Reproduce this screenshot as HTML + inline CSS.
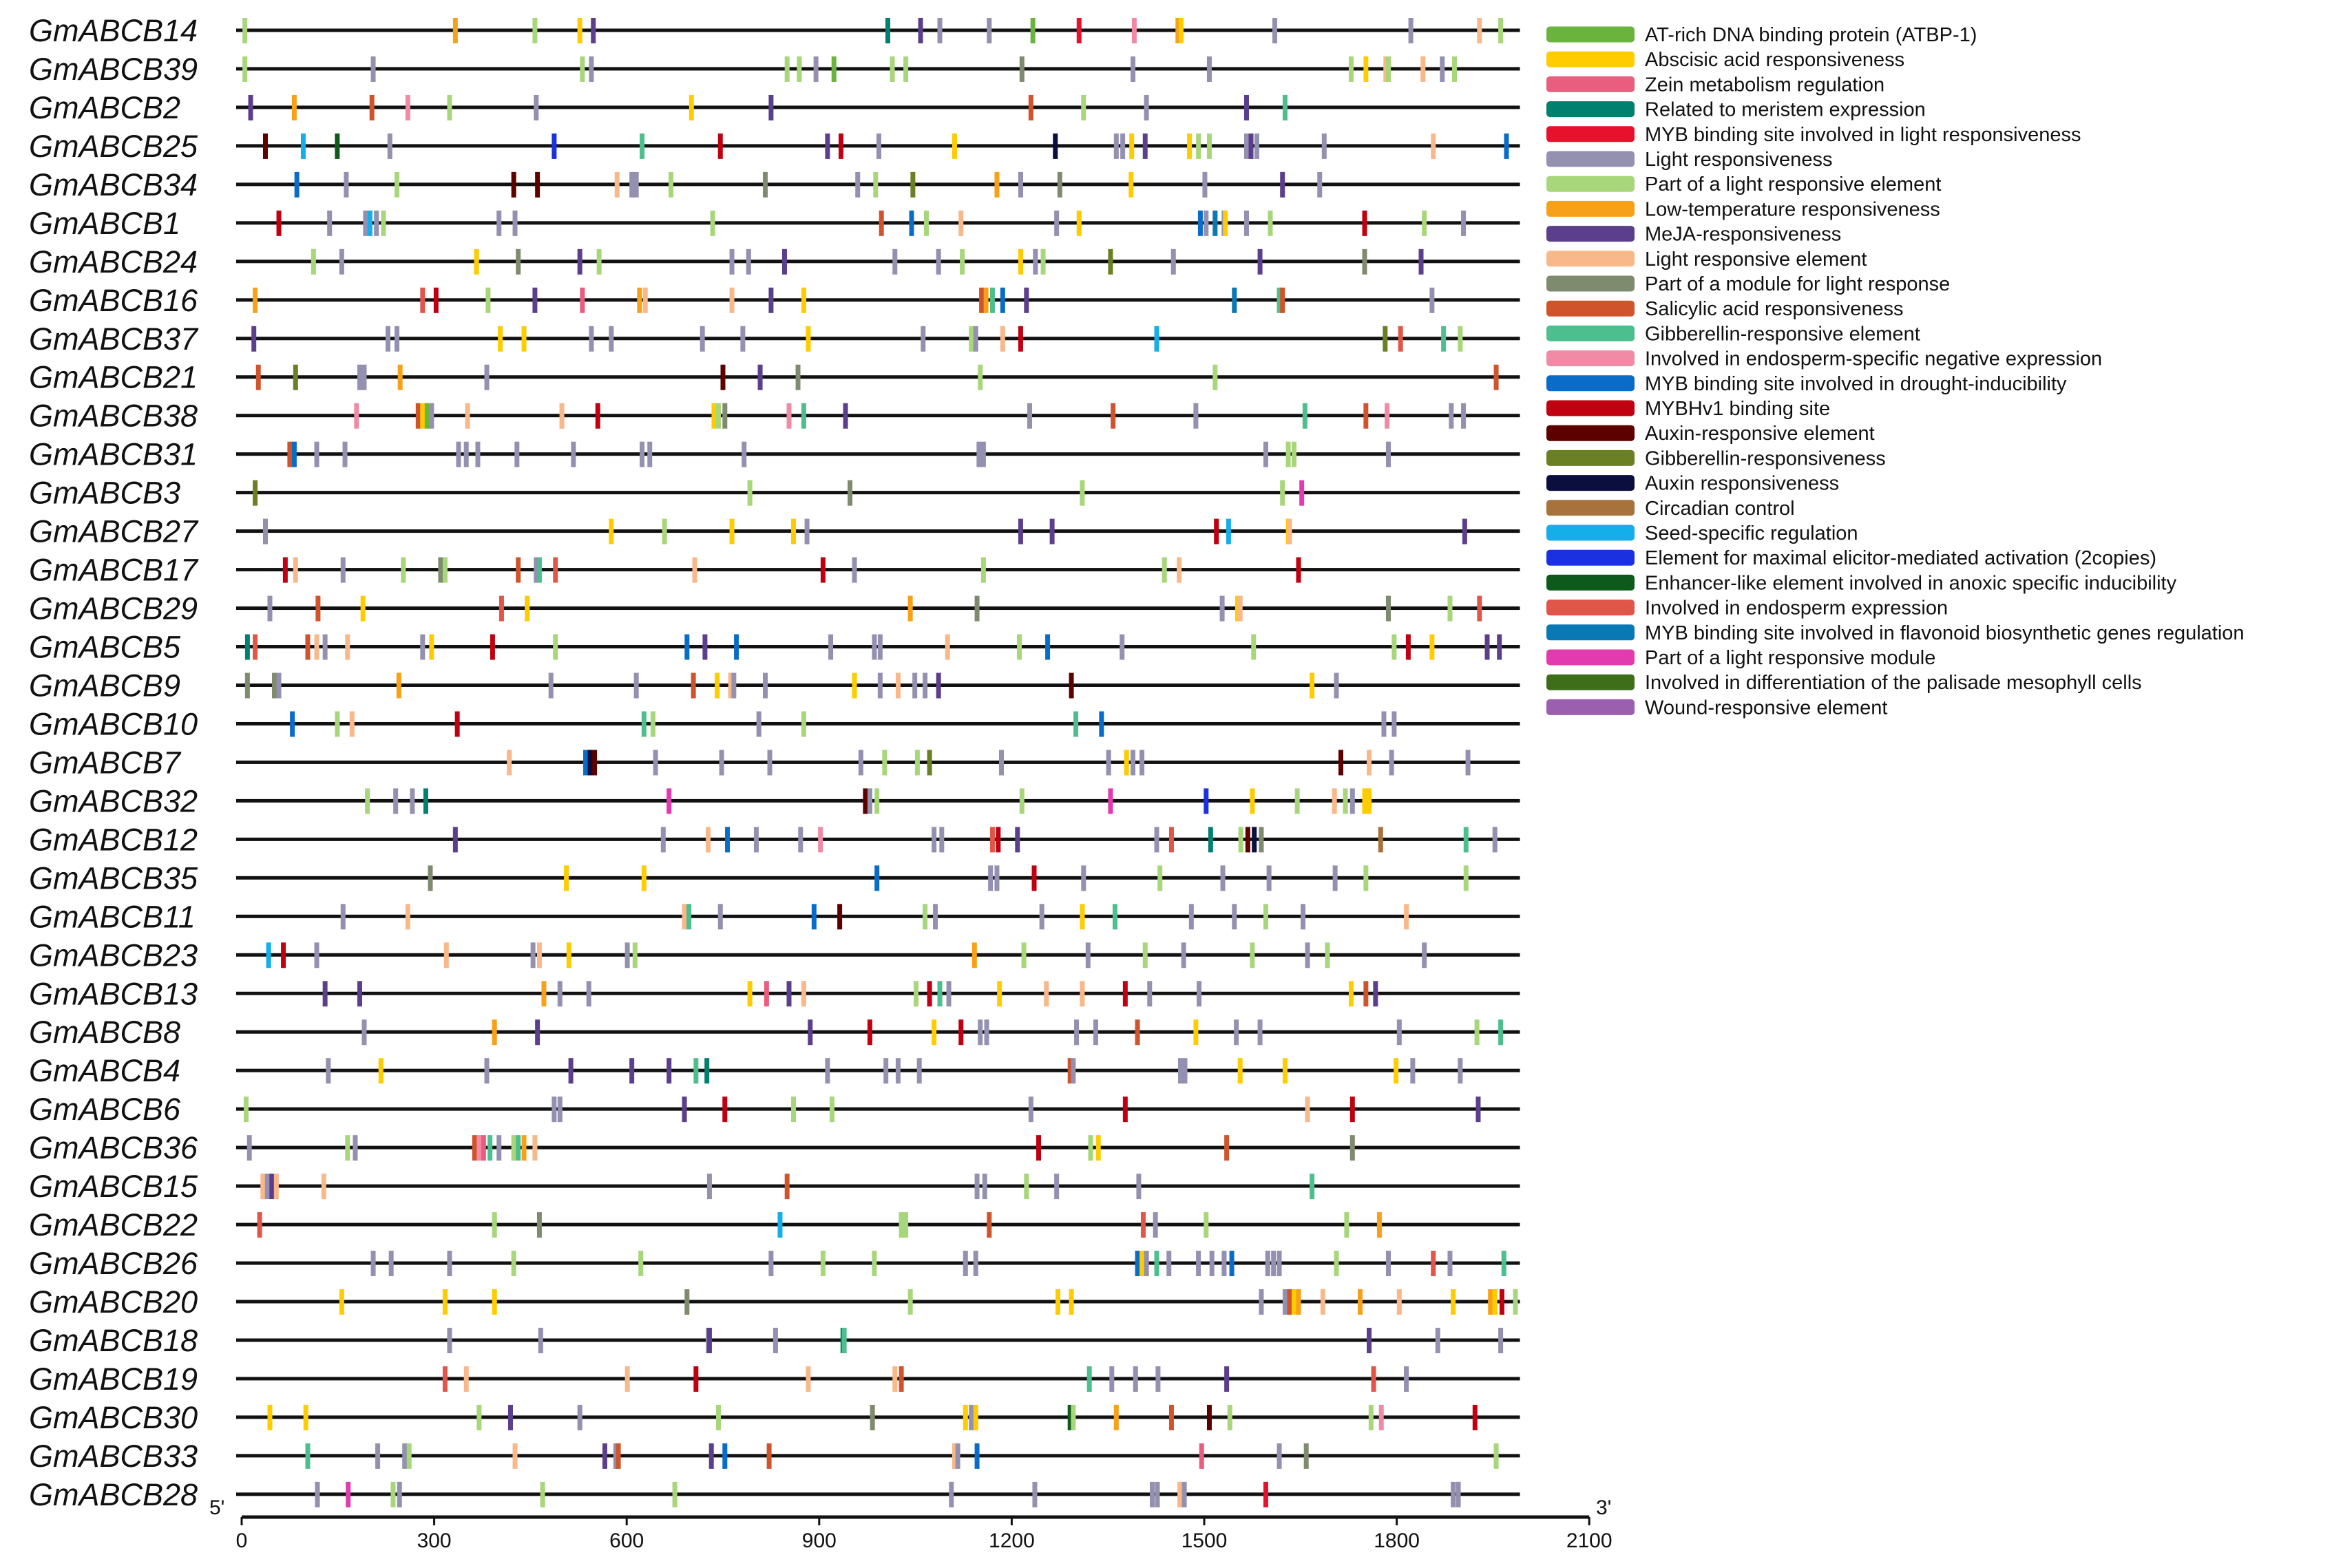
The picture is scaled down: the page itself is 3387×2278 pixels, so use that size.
<!DOCTYPE html>
<html><head><meta charset="utf-8"><style>
html,body{margin:0;padding:0;background:#fff;}
svg{display:block;font-family:"Liberation Sans",Arial,sans-serif;}
</style></head><body>
<svg id="chart" width="3387" height="2278" viewBox="0 0 3387 2278" xmlns="http://www.w3.org/2000/svg"></svg>
<script>
const genes = ["GmABCB14","GmABCB39","GmABCB2","GmABCB25","GmABCB34","GmABCB1","GmABCB24","GmABCB16","GmABCB37","GmABCB21","GmABCB38","GmABCB31","GmABCB3","GmABCB27","GmABCB17","GmABCB29","GmABCB5","GmABCB9","GmABCB10","GmABCB7","GmABCB32","GmABCB12","GmABCB35","GmABCB11","GmABCB23","GmABCB13","GmABCB8","GmABCB4","GmABCB6","GmABCB36","GmABCB15","GmABCB22","GmABCB26","GmABCB20","GmABCB18","GmABCB19","GmABCB30","GmABCB33","GmABCB28"];
const elementNames = ["AT-rich DNA binding protein (ATBP-1)","Abscisic acid responsiveness","Zein metabolism regulation","Related to meristem expression","MYB binding site involved in light responsiveness","Light responsiveness","Part of a light responsive element","Low-temperature responsiveness","MeJA-responsiveness","Light responsive element","Part of a module for light response","Salicylic acid responsiveness","Gibberellin-responsive element","Involved in endosperm-specific negative expression","MYB binding site involved in drought-inducibility","MYBHv1 binding site","Auxin-responsive element","Gibberellin-responsiveness","Auxin responsiveness","Circadian control","Seed-specific regulation","Element for maximal elicitor-mediated activation (2copies)","Enhancer-like element involved in anoxic specific inducibility","Involved in endosperm expression","MYB binding site involved in flavonoid biosynthetic genes regulation","Part of a light responsive module","Involved in differentiation of the palisade mesophyll cells","Wound-responsive element"];
const elementColors = ["#6ab43e","#ffcc00","#e95d7e","#00806f","#e8112d","#9390b0","#a8d67a","#f7a11a","#5c3f8c","#f9b88a","#7f8b6e","#d0542b","#4dbf8e","#f08aa5","#0a6cc9","#c00010","#5c0000","#6b7f23","#0a0f3d","#a8723c","#14aee8","#1b30e0","#0e5a1c","#e0574a","#0a78b4","#e23aaf","#3f6e1a","#9b5fb0"];
const geneLength = 1992;
const xTicks = [0,300,600,900,1200,1500,1800,2100];
// each gene: element positions (bp) and element type indices
const sitePos = [
[5,333,457,527,548,1007,1058,1088,1165,1233,1305,1391,1459,1464,1610,1822,1929,1962],
[5,205,531,545,850,869,895,923,1014,1035,1216,1389,1508,1729,1752,1783,1787,1841,1871,1890],
[14,82,203,259,324,459,701,825,1230,1312,1410,1566,1626],
[37,96,149,231,487,624,746,913,934,993,1111,1268,1363,1373,1387,1408,1477,1491,1508,1566,1573,1582,1687,1857,1971],
[86,163,242,424,461,585,608,615,669,816,960,988,1046,1177,1214,1275,1386,1501,1622,1680],
[58,137,193,200,210,221,401,426,734,997,1044,1067,1121,1270,1305,1494,1503,1517,1531,1533,1566,1603,1750,1843,1904],
[112,156,366,431,527,557,764,790,846,1018,1086,1123,1214,1237,1249,1354,1452,1587,1750,1838],
[21,282,303,384,457,531,620,629,764,825,876,1153,1160,1170,1186,1223,1547,1617,1622,1855],
[19,228,242,403,440,545,576,718,781,883,1062,1137,1144,1186,1214,1426,1782,1806,1873,1899],
[26,84,184,191,247,382,750,808,867,1151,1517,1955],
[179,275,282,289,296,352,499,555,736,743,753,853,876,941,1228,1358,1487,1657,1752,1785,1885,1904],
[75,82,117,161,338,350,368,429,517,624,636,783,1149,1156,1596,1631,1640,1787],
[21,792,948,1310,1622,1652],
[37,576,659,764,860,881,1214,1263,1519,1538,1631,1633,1906],
[68,84,158,252,310,317,431,459,464,489,706,906,955,1156,1438,1461,1647],
[44,119,189,405,445,1042,1146,1528,1552,1556,1787,1883,1929],
[9,21,103,117,130,165,282,296,391,489,694,722,771,918,986,995,1100,1212,1256,1372,1577,1796,1818,1855,1941,1960],
[9,51,58,245,482,615,704,741,762,767,816,955,995,1023,1049,1065,1086,1293,1668,1706],
[79,149,172,336,627,641,806,876,1300,1340,1780,1796],
[417,536,543,550,645,748,823,965,1002,1053,1072,1184,1351,1379,1389,1403,1713,1757,1792,1911],
[196,240,266,287,666,972,979,990,1216,1354,1503,1575,1645,1703,1720,1731,1750,1757],
[333,657,727,757,802,871,902,1079,1091,1170,1179,1209,1426,1449,1510,1557,1568,1578,1589,1775,1908,1953],
[294,506,627,990,1167,1177,1235,1312,1431,1529,1601,1704,1752,1908],
[158,259,690,697,746,892,932,1065,1081,1247,1310,1361,1480,1547,1596,1654,1815],
[42,65,117,319,454,464,510,601,613,1142,1219,1319,1408,1468,1575,1661,1692,1843],
[130,184,471,496,541,792,818,853,876,1051,1072,1088,1102,1181,1254,1310,1377,1415,1492,1729,1752,1767],
[191,394,461,886,979,1079,1121,1151,1161,1301,1331,1396,1487,1550,1587,1804,1925,1962],
[135,217,382,513,608,666,708,725,913,1004,1023,1056,1291,1296,1463,1470,1556,1626,1799,1825,1899],
[7,487,496,690,753,860,920,1230,1377,1661,1731,1927],
[12,165,177,363,370,377,387,401,424,431,440,457,1242,1323,1335,1535,1731],
[33,40,47,54,128,729,850,1146,1158,1223,1270,1398,1668],
[28,394,464,839,1028,1035,1165,1405,1424,1503,1722,1773],
[205,233,324,424,622,825,906,986,1128,1144,1396,1403,1410,1426,1445,1491,1512,1531,1543,1599,1608,1617,1706,1787,1857,1883,1967],
[156,317,394,694,1042,1272,1293,1589,1626,1633,1640,1647,1685,1743,1804,1888,1946,1953,1964,1985],
[324,466,727,729,832,937,939,1757,1864,1962],
[317,350,601,708,883,1018,1028,1321,1356,1393,1428,1535,1764,1815],
[44,100,370,419,527,743,983,1128,1137,1144,1291,1296,1363,1449,1508,1540,1760,1776,1922],
[103,212,254,261,426,566,583,587,732,753,822,1111,1116,1146,1496,1617,1659,1955],
[118,166,236,246,469,675,1106,1236,1419,1427,1462,1469,1596,1888,1896]
];
const siteType = [
[6,7,6,1,8,3,8,5,5,0,4,13,7,1,5,5,9,6],
[6,5,6,5,6,6,5,0,6,6,10,5,5,6,1,9,6,9,5,6],
[8,7,11,13,6,5,1,8,11,6,5,8,12],
[16,20,22,5,21,12,15,8,15,5,1,18,5,5,1,8,1,6,6,5,8,5,5,9,14],
[14,5,6,16,16,9,5,5,6,10,5,6,17,7,5,10,1,5,8,5],
[15,5,5,20,5,6,5,5,6,11,14,6,9,5,1,14,5,24,5,1,5,6,15,6,5],
[6,5,1,10,8,6,5,5,8,5,5,6,1,5,6,17,5,8,10,8],
[7,23,15,6,8,2,7,9,9,8,1,11,7,12,14,8,24,12,11,5],
[8,5,5,1,1,5,5,5,5,1,5,6,5,9,15,20,17,23,12,6],
[11,17,5,5,7,5,16,8,10,6,6,11],
[13,11,1,0,5,9,9,15,1,6,10,13,12,8,5,11,5,12,11,13,5,5],
[11,14,5,5,5,5,5,5,5,5,5,5,5,5,5,6,6,5],
[17,6,10,6,6,25],
[5,1,6,1,1,5,8,8,15,20,1,9,8],
[15,9,5,6,10,6,11,5,12,23,9,15,5,6,6,9,15],
[5,11,1,23,1,7,10,5,1,9,10,6,23],
[3,23,11,9,5,9,5,1,15,6,14,8,14,5,5,5,9,6,14,5,6,6,15,1,8,8],
[10,10,5,7,5,5,11,1,9,5,5,1,5,9,5,5,8,16,1,5],
[14,6,9,15,12,6,5,6,12,14,5,5],
[9,14,18,16,5,5,5,5,6,6,17,5,5,1,5,5,16,9,5,5],
[6,5,5,3,25,16,5,6,6,25,21,1,6,9,6,5,1,1],
[8,5,9,14,5,5,13,5,5,23,15,8,5,23,3,6,16,18,10,19,12,5],
[10,1,1,14,5,5,15,5,6,5,5,5,6,6],
[5,9,9,12,5,14,16,6,5,5,1,12,5,5,6,5,9],
[20,15,5,9,5,9,1,5,6,7,6,5,6,5,6,5,6,5],
[8,8,7,5,5,1,2,8,9,6,15,12,5,1,9,9,15,5,5,1,11,8],
[5,7,8,8,15,1,15,5,5,5,5,11,1,5,5,5,6,12],
[5,1,5,8,8,8,12,3,5,5,5,5,11,5,5,5,1,1,1,5,5],
[6,5,5,8,15,6,6,5,15,9,15,8],
[5,6,5,11,13,2,12,5,6,12,7,9,15,6,1,11,10],
[9,5,8,9,9,5,11,5,5,6,5,5,12],
[23,6,10,20,6,6,11,23,5,6,6,7],
[5,5,5,6,6,5,6,6,5,5,14,1,5,12,5,5,5,5,14,5,5,5,6,5,23,5,12],
[1,1,1,10,6,1,1,5,5,11,1,7,9,7,9,1,7,1,15,6],
[5,5,5,8,5,3,12,8,5,5],
[23,9,9,15,9,9,11,12,5,5,5,8,23,5],
[1,1,6,8,5,6,10,1,5,1,22,6,7,11,16,6,6,13,15],
[12,5,5,6,9,8,5,11,8,14,11,9,5,14,2,5,10,6],
[5,25,6,5,6,6,5,5,5,5,9,5,4,5,5]
];

const NS = "http://www.w3.org/2000/svg";
const svg = document.getElementById("chart");
const X0 = 351, PXU = 0.932, ROW0 = 44, ROWH = 55.97;
function xScale(u){ return X0 + u * PXU; }
function yRow(i){ return ROW0 + i * ROWH; }
function mk(tag, attrs, parent){
  const e = document.createElementNS(NS, tag);
  for (const k in attrs) e.setAttribute(k, attrs[k]);
  (parent || svg).appendChild(e);
  return e;
}

genes.forEach((g, i) => {
  const y = yRow(i);
  const grp = mk("g", {});
  
  
  const lab = mk("text", {x: 42, y: y + 16, "font-size": 45, "font-style": "italic", fill: "#111"}, grp);
  lab.textContent = g;
  
  
  const ln = mk("rect", {x: 343, y: y - 2.5, width: xScale(geneLength) - 343, height: 5, fill: "#111"}, grp);
  
  
  sitePos[i].forEach((p, j) => {
    const t = siteType[i][j];
    const m = mk("rect", {x: xScale(p) - 3.5, y: y - 18, width: 7, height: 37, fill: elementColors[t]}, grp);
    
    
  });
});

// axis
const axis = mk("g", {});


const ay = 2204;
mk("rect", {x: xScale(0), y: ay - 2.5, width: xScale(2100) - xScale(0), height: 5, fill: "#111"}, axis);
xTicks.forEach(t => {
  mk("rect", {x: xScale(t) - 1.5, y: ay, width: 3, height: 12, fill: "#111"}, axis);
  const tl = mk("text", {x: xScale(t), y: ay + 44, "font-size": 30, "text-anchor": "middle", fill: "#111"}, axis);
  tl.textContent = t;
  
  
});
const p5 = mk("text", {x: 304, y: 2200, "font-size": 30, fill: "#111"}, axis);
p5.textContent = "5'";


const p3 = mk("text", {x: 2318, y: 2200, "font-size": 30, fill: "#111"}, axis);
p3.textContent = "3'";



// legend
const leg = mk("g", {});


elementNames.forEach((n, i) => {
  const y = 50 + i * 36.2;
  const e = mk("g", {}, leg);
  
  
  mk("rect", {x: 2246, y: y - 11.5, width: 128, height: 23, rx: 5, fill: elementColors[i]}, e);
  const tx = mk("text", {x: 2389, y: y + 10, "font-size": 29, fill: "#111"}, e);
  tx.textContent = n;
});
</script>
</body></html>
